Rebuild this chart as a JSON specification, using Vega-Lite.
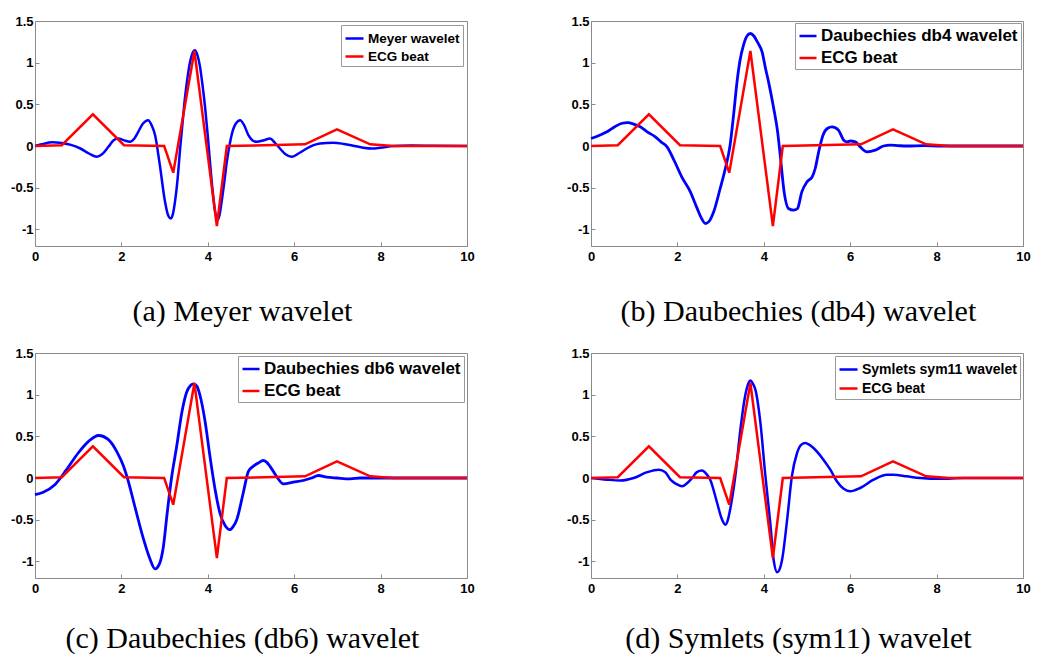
{
  "$schema": "https://vega.github.io/schema/vega-lite/v6.json",
  "background": "white",
  "padding": {"left": 10, "top": 14, "right": 8, "bottom": 2},
  "datasets": {
    "ecg": [
      {"x": 0, "y": 0}, {"x": 0.62, "y": 0.01}, {"x": 1.34, "y": 0.38}, {"x": 2.06, "y": 0.01},
      {"x": 2.99, "y": 0.0}, {"x": 3.2, "y": -0.32}, {"x": 3.69, "y": 1.14}, {"x": 4.21, "y": -0.96},
      {"x": 4.44, "y": 0.0}, {"x": 6.25, "y": 0.02}, {"x": 6.99, "y": 0.2}, {"x": 7.76, "y": 0.02},
      {"x": 8.3, "y": 0.0}, {"x": 10, "y": 0}
    ],
    "meyer": [
      {"x": 0, "y": 0}, {"x": 0.15, "y": 0.02}, {"x": 0.4, "y": 0.045}, {"x": 0.62, "y": 0.035},
      {"x": 0.85, "y": 0.01}, {"x": 1.05, "y": -0.03}, {"x": 1.25, "y": -0.09}, {"x": 1.43, "y": -0.13},
      {"x": 1.55, "y": -0.1}, {"x": 1.7, "y": -0.01}, {"x": 1.82, "y": 0.07}, {"x": 1.93, "y": 0.09},
      {"x": 2.05, "y": 0.07}, {"x": 2.2, "y": 0.05}, {"x": 2.3, "y": 0.09}, {"x": 2.39, "y": 0.17},
      {"x": 2.5, "y": 0.27}, {"x": 2.62, "y": 0.31}, {"x": 2.7, "y": 0.25}, {"x": 2.78, "y": 0.13},
      {"x": 2.89, "y": -0.23}, {"x": 3.01, "y": -0.67}, {"x": 3.08, "y": -0.83}, {"x": 3.14, "y": -0.87},
      {"x": 3.19, "y": -0.82}, {"x": 3.24, "y": -0.67}, {"x": 3.3, "y": -0.4}, {"x": 3.36, "y": -0.03},
      {"x": 3.42, "y": 0.3}, {"x": 3.47, "y": 0.57}, {"x": 3.53, "y": 0.82}, {"x": 3.59, "y": 1.01},
      {"x": 3.65, "y": 1.12}, {"x": 3.7, "y": 1.15}, {"x": 3.76, "y": 1.09}, {"x": 3.82, "y": 0.95},
      {"x": 3.88, "y": 0.72}, {"x": 3.94, "y": 0.45}, {"x": 4.0, "y": 0.12}, {"x": 4.05, "y": -0.19},
      {"x": 4.11, "y": -0.53}, {"x": 4.17, "y": -0.79}, {"x": 4.22, "y": -0.89}, {"x": 4.27, "y": -0.83},
      {"x": 4.32, "y": -0.67}, {"x": 4.38, "y": -0.44}, {"x": 4.44, "y": -0.19}, {"x": 4.5, "y": 0.0},
      {"x": 4.55, "y": 0.13}, {"x": 4.65, "y": 0.27}, {"x": 4.75, "y": 0.31}, {"x": 4.84, "y": 0.25},
      {"x": 4.94, "y": 0.13}, {"x": 5.03, "y": 0.07}, {"x": 5.13, "y": 0.05}, {"x": 5.3, "y": 0.07},
      {"x": 5.44, "y": 0.09}, {"x": 5.55, "y": 0.04}, {"x": 5.67, "y": -0.03}, {"x": 5.8, "y": -0.1},
      {"x": 5.94, "y": -0.13}, {"x": 6.1, "y": -0.09}, {"x": 6.29, "y": -0.03}, {"x": 6.45, "y": 0.01},
      {"x": 6.6, "y": 0.03}, {"x": 6.9, "y": 0.04}, {"x": 7.15, "y": 0.025}, {"x": 7.4, "y": 0.0},
      {"x": 7.6, "y": -0.02}, {"x": 7.8, "y": -0.03}, {"x": 8.0, "y": -0.02}, {"x": 8.3, "y": 0.0},
      {"x": 8.7, "y": 0.005}, {"x": 9.2, "y": 0.003}, {"x": 10, "y": 0}
    ],
    "db4": [
      {"x": 0, "y": 0.09}, {"x": 0.2, "y": 0.13}, {"x": 0.37, "y": 0.17}, {"x": 0.55, "y": 0.23},
      {"x": 0.7, "y": 0.27}, {"x": 0.85, "y": 0.28}, {"x": 1.0, "y": 0.26}, {"x": 1.14, "y": 0.23},
      {"x": 1.3, "y": 0.17}, {"x": 1.49, "y": 0.11}, {"x": 1.62, "y": 0.05}, {"x": 1.76, "y": -0.01},
      {"x": 1.93, "y": -0.18}, {"x": 2.1, "y": -0.37}, {"x": 2.3, "y": -0.55}, {"x": 2.45, "y": -0.74},
      {"x": 2.55, "y": -0.86}, {"x": 2.65, "y": -0.93}, {"x": 2.74, "y": -0.9}, {"x": 2.84, "y": -0.79},
      {"x": 2.99, "y": -0.51}, {"x": 3.11, "y": -0.27}, {"x": 3.22, "y": 0.01}, {"x": 3.3, "y": 0.37},
      {"x": 3.38, "y": 0.77}, {"x": 3.45, "y": 1.03}, {"x": 3.53, "y": 1.21}, {"x": 3.61, "y": 1.32},
      {"x": 3.69, "y": 1.35}, {"x": 3.77, "y": 1.32}, {"x": 3.86, "y": 1.24}, {"x": 3.96, "y": 1.13},
      {"x": 4.04, "y": 0.93}, {"x": 4.11, "y": 0.77}, {"x": 4.23, "y": 0.45}, {"x": 4.32, "y": 0.17},
      {"x": 4.38, "y": -0.11}, {"x": 4.47, "y": -0.55}, {"x": 4.57, "y": -0.75}, {"x": 4.69, "y": -0.77},
      {"x": 4.78, "y": -0.75}, {"x": 4.88, "y": -0.55}, {"x": 5.0, "y": -0.43}, {"x": 5.12, "y": -0.37},
      {"x": 5.19, "y": -0.27}, {"x": 5.27, "y": -0.07}, {"x": 5.37, "y": 0.13}, {"x": 5.47, "y": 0.21},
      {"x": 5.58, "y": 0.23}, {"x": 5.73, "y": 0.19}, {"x": 5.85, "y": 0.07}, {"x": 5.93, "y": 0.05},
      {"x": 6.0, "y": 0.06}, {"x": 6.12, "y": 0.05}, {"x": 6.23, "y": -0.01}, {"x": 6.39, "y": -0.07},
      {"x": 6.58, "y": -0.05}, {"x": 6.77, "y": 0.0}, {"x": 6.93, "y": 0.01}, {"x": 7.1, "y": 0.005},
      {"x": 7.31, "y": 0.0}, {"x": 7.7, "y": 0.005}, {"x": 8.09, "y": 0}, {"x": 10, "y": 0}
    ],
    "db6": [
      {"x": 0, "y": -0.2}, {"x": 0.19, "y": -0.17}, {"x": 0.46, "y": -0.08}, {"x": 0.73, "y": 0.1},
      {"x": 1.0, "y": 0.3}, {"x": 1.24, "y": 0.44}, {"x": 1.47, "y": 0.51}, {"x": 1.7, "y": 0.46},
      {"x": 1.89, "y": 0.32}, {"x": 2.05, "y": 0.14}, {"x": 2.16, "y": -0.04}, {"x": 2.32, "y": -0.36},
      {"x": 2.51, "y": -0.73}, {"x": 2.66, "y": -0.97}, {"x": 2.78, "y": -1.09}, {"x": 2.88, "y": -1.03},
      {"x": 2.97, "y": -0.83}, {"x": 3.06, "y": -0.42}, {"x": 3.16, "y": 0.0}, {"x": 3.28, "y": 0.38},
      {"x": 3.4, "y": 0.79}, {"x": 3.51, "y": 1.03}, {"x": 3.6, "y": 1.11}, {"x": 3.67, "y": 1.13},
      {"x": 3.75, "y": 1.1}, {"x": 3.82, "y": 0.99}, {"x": 3.94, "y": 0.67}, {"x": 4.05, "y": 0.26},
      {"x": 4.17, "y": -0.14}, {"x": 4.28, "y": -0.42}, {"x": 4.4, "y": -0.57}, {"x": 4.51, "y": -0.62},
      {"x": 4.59, "y": -0.58}, {"x": 4.67, "y": -0.5}, {"x": 4.82, "y": -0.18}, {"x": 4.94, "y": 0.08},
      {"x": 5.05, "y": 0.14}, {"x": 5.17, "y": 0.18}, {"x": 5.28, "y": 0.21}, {"x": 5.36, "y": 0.19},
      {"x": 5.44, "y": 0.14}, {"x": 5.59, "y": 0.02}, {"x": 5.75, "y": -0.07}, {"x": 5.98, "y": -0.05},
      {"x": 6.21, "y": -0.03}, {"x": 6.4, "y": 0.0}, {"x": 6.56, "y": 0.03}, {"x": 6.75, "y": 0.01},
      {"x": 6.99, "y": 0.0}, {"x": 7.3, "y": -0.01}, {"x": 7.53, "y": 0}, {"x": 10, "y": 0}
    ],
    "sym11": [
      {"x": 0, "y": 0}, {"x": 0.37, "y": -0.02}, {"x": 0.68, "y": -0.03}, {"x": 0.99, "y": 0.0},
      {"x": 1.3, "y": 0.07}, {"x": 1.57, "y": 0.1}, {"x": 1.72, "y": 0.07}, {"x": 1.84, "y": -0.02},
      {"x": 1.97, "y": -0.07}, {"x": 2.11, "y": -0.1}, {"x": 2.23, "y": -0.06}, {"x": 2.34, "y": 0.0},
      {"x": 2.45, "y": 0.07}, {"x": 2.57, "y": 0.09}, {"x": 2.67, "y": 0.05}, {"x": 2.76, "y": -0.02},
      {"x": 2.92, "y": -0.3}, {"x": 3.02, "y": -0.48}, {"x": 3.11, "y": -0.56}, {"x": 3.17, "y": -0.5},
      {"x": 3.22, "y": -0.38}, {"x": 3.34, "y": 0.02}, {"x": 3.46, "y": 0.59}, {"x": 3.57, "y": 0.99},
      {"x": 3.64, "y": 1.13}, {"x": 3.69, "y": 1.17}, {"x": 3.75, "y": 1.13}, {"x": 3.8, "y": 1.07},
      {"x": 3.92, "y": 0.67}, {"x": 4.03, "y": 0.06}, {"x": 4.15, "y": -0.54}, {"x": 4.23, "y": -0.99},
      {"x": 4.31, "y": -1.13}, {"x": 4.37, "y": -1.09}, {"x": 4.42, "y": -0.99}, {"x": 4.54, "y": -0.5},
      {"x": 4.65, "y": 0.02}, {"x": 4.77, "y": 0.3}, {"x": 4.87, "y": 0.4}, {"x": 4.96, "y": 0.42},
      {"x": 5.05, "y": 0.4}, {"x": 5.15, "y": 0.36}, {"x": 5.38, "y": 0.22}, {"x": 5.54, "y": 0.1},
      {"x": 5.69, "y": -0.04}, {"x": 5.85, "y": -0.13}, {"x": 6.0, "y": -0.16}, {"x": 6.23, "y": -0.12},
      {"x": 6.54, "y": -0.02}, {"x": 6.85, "y": 0.04}, {"x": 7.0, "y": 0.04}, {"x": 7.31, "y": 0.02},
      {"x": 7.62, "y": 0.0}, {"x": 8.09, "y": -0.01}, {"x": 8.6, "y": 0}, {"x": 10, "y": 0}
    ]
  },
  "config": {
    "view": {"stroke": "#8a8a8a", "strokeWidth": 1},
    "axis": {
      "grid": false, "domain": false, "title": null,
      "labelFont": "Liberation Sans", "labelFontWeight": "bold", "labelFontSize": 13, "labelColor": "black",
      "tickSize": -4, "tickColor": "#8a8a8a", "labelFlush": false, "labelOverlap": false
    },
    "axisX": {"labelPadding": 8},
    "axisY": {"labelPadding": 6},
    "title": {
      "orient": "bottom", "frame": "bounds", "anchor": "middle",
      "font": "Liberation Serif", "fontSize": 30, "fontWeight": "normal", "color": "black",
      "baseline": "alphabetic", "offset": 34
    },
    "legend": {
      "orient": "top-right", "title": null, "strokeColor": "#9a9a9a", "fillColor": "white",
      "padding": 3, "labelFont": "Liberation Sans", "labelFontWeight": "bold", "labelColor": "black",
      "symbolType": "stroke", "symbolStrokeWidth": 2.5, "labelOffset": 3, "cornerRadius": 0, "labelLimit": 400
    }
  },
  "columns": 2,
  "spacing": {"row": 18, "column": 91},
  "resolve": {"scale": {"color": "independent"}},
  "concat": [
    {
      "width": 432, "height": 225,
      "title": {"text": "(a) Meyer wavelet", "offset": 34},
      "layer": [
        {
          "data": {"name": "meyer"},
          "mark": {"type": "line", "interpolate": "monotone", "strokeWidth": 2.5},
          "encoding": {
            "x": {"field": "x", "type": "quantitative", "scale": {"domain": [0, 10], "nice": false}, "axis": {"values": [0, 2, 4, 6, 8, 10]}},
            "y": {"field": "y", "type": "quantitative", "scale": {"domain": [-1.2, 1.5], "nice": false, "zero": false}, "axis": {"values": [-1, -0.5, 0, 0.5, 1, 1.5], "format": ".1~f", "labelExpr": "replace(datum.label, '\u2212', '-')"}},
            "color": {"datum": "Meyer wavelet", "type": "nominal", "scale": {"domain": ["Meyer wavelet", "ECG beat"], "range": ["#0000ff", "#ff0000"]},
              "legend": {"labelFontSize": 13.5, "symbolSize": 324, "offset": 4, "rowPadding": 1}}
          }
        },
        {
          "data": {"name": "ecg"},
          "mark": {"type": "line", "strokeWidth": 2.5},
          "encoding": {
            "x": {"field": "x", "type": "quantitative"},
            "y": {"field": "y", "type": "quantitative"},
            "color": {"datum": "ECG beat", "type": "nominal"}
          }
        }
      ]
    },
    {
      "width": 432, "height": 225,
      "title": {"text": "(b) Daubechies (db4) wavelet", "offset": 34},
      "layer": [
        {
          "data": {"name": "db4"},
          "mark": {"type": "line", "interpolate": "monotone", "strokeWidth": 2.8},
          "encoding": {
            "x": {"field": "x", "type": "quantitative", "scale": {"domain": [0, 10], "nice": false}, "axis": {"values": [0, 2, 4, 6, 8, 10]}},
            "y": {"field": "y", "type": "quantitative", "scale": {"domain": [-1.2, 1.5], "nice": false, "zero": false}, "axis": {"values": [-1, -0.5, 0, 0.5, 1, 1.5], "format": ".1~f", "labelExpr": "replace(datum.label, '\u2212', '-')"}},
            "color": {"datum": "Daubechies db4 wavelet", "type": "nominal", "scale": {"domain": ["Daubechies db4 wavelet", "ECG beat"], "range": ["#0000ff", "#ff0000"]},
              "legend": {"labelFontSize": 17, "symbolSize": 289, "offset": 2, "rowPadding": 4}}
          }
        },
        {
          "data": {"name": "ecg"},
          "mark": {"type": "line", "strokeWidth": 2.5},
          "encoding": {
            "x": {"field": "x", "type": "quantitative"},
            "y": {"field": "y", "type": "quantitative"},
            "color": {"datum": "ECG beat", "type": "nominal"}
          }
        }
      ]
    },
    {
      "width": 432, "height": 225,
      "title": {"text": "(c) Daubechies (db6) wavelet", "offset": 29},
      "layer": [
        {
          "data": {"name": "db6"},
          "mark": {"type": "line", "interpolate": "monotone", "strokeWidth": 2.8},
          "encoding": {
            "x": {"field": "x", "type": "quantitative", "scale": {"domain": [0, 10], "nice": false}, "axis": {"values": [0, 2, 4, 6, 8, 10]}},
            "y": {"field": "y", "type": "quantitative", "scale": {"domain": [-1.2, 1.5], "nice": false, "zero": false}, "axis": {"values": [-1, -0.5, 0, 0.5, 1, 1.5], "format": ".1~f", "labelExpr": "replace(datum.label, '\u2212', '-')"}},
            "color": {"datum": "Daubechies db6 wavelet", "type": "nominal", "scale": {"domain": ["Daubechies db6 wavelet", "ECG beat"], "range": ["#0000ff", "#ff0000"]},
              "legend": {"labelFontSize": 17, "symbolSize": 289, "offset": 3, "rowPadding": 4}}
          }
        },
        {
          "data": {"name": "ecg"},
          "mark": {"type": "line", "strokeWidth": 2.5},
          "encoding": {
            "x": {"field": "x", "type": "quantitative"},
            "y": {"field": "y", "type": "quantitative"},
            "color": {"datum": "ECG beat", "type": "nominal"}
          }
        }
      ]
    },
    {
      "width": 432, "height": 225,
      "title": {"text": "(d) Symlets (sym11) wavelet", "offset": 29},
      "layer": [
        {
          "data": {"name": "sym11"},
          "mark": {"type": "line", "interpolate": "monotone", "strokeWidth": 2.5},
          "encoding": {
            "x": {"field": "x", "type": "quantitative", "scale": {"domain": [0, 10], "nice": false}, "axis": {"values": [0, 2, 4, 6, 8, 10]}},
            "y": {"field": "y", "type": "quantitative", "scale": {"domain": [-1.2, 1.5], "nice": false, "zero": false}, "axis": {"values": [-1, -0.5, 0, 0.5, 1, 1.5], "format": ".1~f", "labelExpr": "replace(datum.label, '\u2212', '-')"}},
            "color": {"datum": "Symlets sym11 wavelet", "type": "nominal", "scale": {"domain": ["Symlets sym11 wavelet", "ECG beat"], "range": ["#0000ff", "#ff0000"]},
              "legend": {"labelFontSize": 14, "symbolSize": 324, "offset": 3, "rowPadding": 1}}
          }
        },
        {
          "data": {"name": "ecg"},
          "mark": {"type": "line", "strokeWidth": 2.5},
          "encoding": {
            "x": {"field": "x", "type": "quantitative"},
            "y": {"field": "y", "type": "quantitative"},
            "color": {"datum": "ECG beat", "type": "nominal"}
          }
        }
      ]
    }
  ]
}
